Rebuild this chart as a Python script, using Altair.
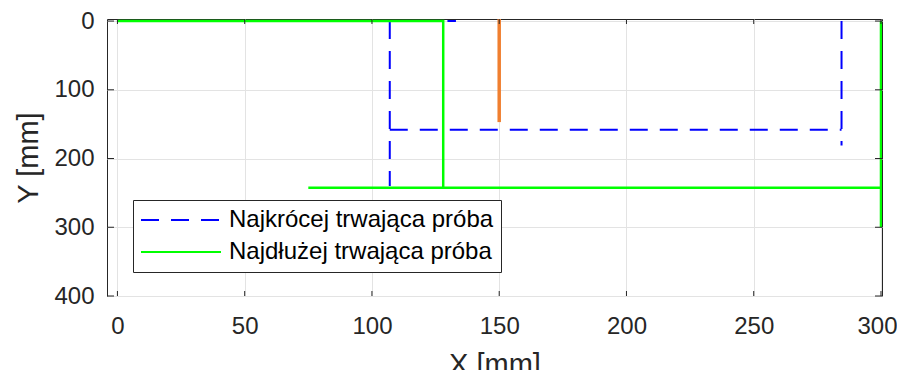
import altair as alt
import pandas as pd

# ---- data ----
blue_name = "Najkrócej trwająca próba"
green_name = "Najdłużej trwająca próba"
# each path is split into segments (seg id) so no dash overlaps
blue_seg = [0, 0, 1, 1, 2, 2, 3, 3]
blue_x = [0, 133, 107, 107, 107, 284.5, 284.5, 284.5]
blue_y = [0, 0, 0, 240, 158, 158, 0, 181]
green_seg = [0, 0, 0, 1, 1, 2, 2]
green_x = [0, 128, 128, 75, 300, 300, 300]
green_y = [0, 0, 242.5, 242.5, 242.5, 0, 300]
orange_x = [150, 150]
orange_y = [-4, 147]
x_ticks = [0, 50, 100, 150, 200, 250, 300]
y_ticks = [0, 100, 200, 300, 400]

W, H = 775, 277
FONT = "Liberation Sans"
AX = "#262626"

blue_df = pd.DataFrame({"x": blue_x, "y": blue_y, "o": range(len(blue_x)),
                        "g": [f"b{k}" for k in blue_seg], "s": blue_name})
green_df = pd.DataFrame({"x": green_x, "y": green_y, "o": range(len(green_x)),
                         "g": [f"g{k}" for k in green_seg], "s": green_name})
orange_df = pd.DataFrame({"x": orange_x, "y": orange_y, "o": range(len(orange_x))})
xt_df = pd.DataFrame({"v": x_ticks})
yt_df = pd.DataFrame({"v": y_ticks})

xs = alt.Scale(domain=[-4.1, 300.4], nice=False, zero=False)
ys = alt.Scale(domain=[-3, 400], reverse=True, nice=False, zero=False)

x_axis = alt.Axis(values=x_ticks, title="X [mm]", grid=True, domain=False, ticks=False,
                  labelPadding=18, titlePadding=12,
                  labelOffset={"condition": {"test": "datum.value >= 300", "value": -4}, "value": 0})
y_axis = alt.Axis(values=y_ticks, title="Y [mm]", grid=True, domain=False, ticks=False,
                  labelPadding=13, titlePadding=10)

legend = alt.Legend(title=None, orient="none", legendX=26, legendY=181)
color = alt.Color("s:N", scale=alt.Scale(domain=[blue_name, green_name], range=["#0000FF", "#00FF00"]),
                  legend=legend)
dash = alt.StrokeDash("s:N", scale=alt.Scale(domain=[blue_name, green_name], range=[[18, 12], [1, 0]]),
                      legend=legend)

def path_layer(df, width):
    return alt.Chart(df).mark_line(strokeWidth=width, clip=True).encode(
        x=alt.X("x:Q", scale=xs, axis=x_axis),
        y=alt.Y("y:Q", scale=ys, axis=y_axis),
        order="o:Q",
        detail="g:N",
        color=color,
        strokeDash=dash,
    )

blue = path_layer(blue_df, 2)
green = path_layer(green_df, 2.5)
orange = alt.Chart(orange_df).mark_line(strokeWidth=3.5, color="#F07F30", clip=True).encode(
    x=alt.X("x:Q", scale=xs, axis=x_axis),
    y=alt.Y("y:Q", scale=ys, axis=y_axis),
    order="o:Q",
)

xt_bottom = alt.Chart(xt_df).mark_rule(color=AX, strokeWidth=1).encode(
    x=alt.X("v:Q", scale=xs, axis=x_axis), y=alt.value(H), y2=alt.value(H - 5))
xt_top = alt.Chart(xt_df).mark_rule(color=AX, strokeWidth=1).encode(
    x=alt.X("v:Q", scale=xs, axis=x_axis), y=alt.value(0), y2=alt.value(5))
yt_left = alt.Chart(yt_df).mark_rule(color=AX, strokeWidth=1).encode(
    y=alt.Y("v:Q", scale=ys, axis=y_axis), x=alt.value(0), x2=alt.value(7))
yt_right = alt.Chart(yt_df).mark_rule(color=AX, strokeWidth=1).encode(
    y=alt.Y("v:Q", scale=ys, axis=y_axis), x=alt.value(W), x2=alt.value(W - 7))

chart = alt.layer(blue, green, orange, xt_bottom, xt_top, yt_left, yt_right).properties(
    width=W, height=H,
    autosize=alt.AutoSizeParams(type="none"),
    padding={"left": 99, "top": 11, "right": 15, "bottom": 74},
    background="white",
).configure_view(
    stroke=AX, strokeWidth=1
).configure_axis(
    labelFont=FONT, labelFontSize=24, labelColor=AX,
    titleFont=FONT, titleFontSize=29, titleFontWeight="normal", titleColor=AX,
    gridColor="#e3e3e3", gridWidth=1, gridOpacity=1,
).configure_legend(
    symbolType="stroke", symbolSize=6400, symbolStrokeWidth=2, clipHeight=26,
    labelFont=FONT, labelFontSize=24, labelColor="#000000", labelLimit=0,
    strokeColor=AX, fillColor="white", padding=7, rowPadding=6, labelOffset=7,
    cornerRadius=0,
)

chart.save("out.html", embed_options={"renderer": "svg", "actions": False})
